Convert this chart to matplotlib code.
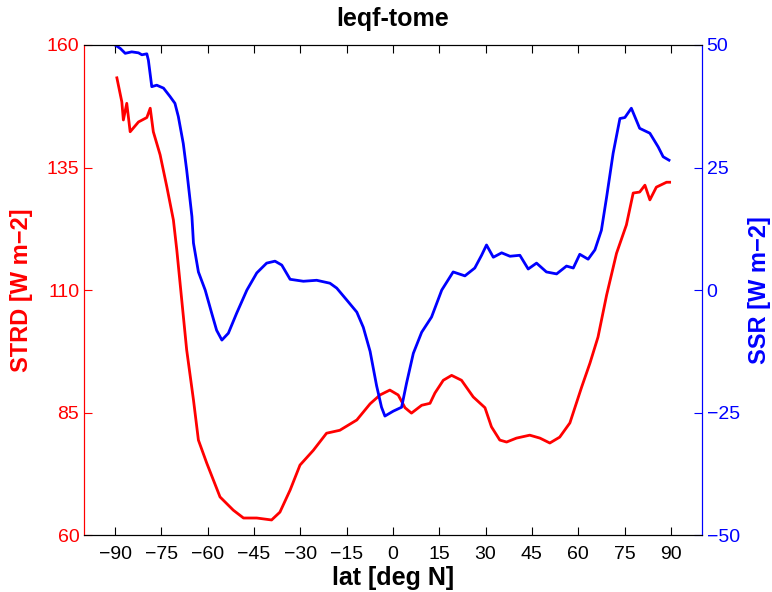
import numpy as np
import matplotlib.pyplot as plt

plt.rcParams['font.family'] = ['Liberation Sans', 'DejaVu Sans']

# STRD (red, left axis)
lat_strd = [-89.4, -87.8, -87.3, -86.2, -85.1, -82.4, -79.7, -78.6, -77.6, -75.4,
            -73.2, -71.1, -70.0, -68.4, -66.8, -64.6, -63.0, -60.3, -56.0, -51.7,
            -48.4, -44.1, -39.3, -36.6, -33.3, -30.1, -25.8, -21.5, -17.2, -11.7,
            -7.4, -4.2, -1.0, 1.7, 3.9, 6.0, 9.3, 12.0, 13.6, 16.3,
            19.0, 22.2, 26.0, 29.8, 31.9, 34.6, 36.8, 40.0, 44.3, 47.6,
            50.8, 54.0, 57.3, 61.1, 63.8, 66.4, 69.2, 72.4, 75.6, 77.8,
            79.9, 81.6, 83.2, 85.3, 88.6, 89.6]
strd = [153.3, 148.4, 144.7, 148.1, 142.3, 144.3, 145.2, 147.1, 142.3, 137.6,
        131.0, 124.3, 118.2, 108.0, 97.8, 87.6, 79.4, 74.7, 67.8, 65.1,
        63.5, 63.5, 63.1, 64.7, 69.2, 74.3, 77.3, 80.8, 81.4, 83.5,
        86.8, 88.6, 89.6, 88.6, 86.0, 84.9, 86.5, 86.9, 89.0, 91.6,
        92.6, 91.6, 88.2, 86.0, 82.1, 79.4, 79.0, 79.8, 80.4, 79.8,
        78.8, 80.0, 82.9, 90.2, 95.1, 100.4, 109.0, 117.5, 123.3, 129.8,
        130.0, 131.4, 128.4, 131.0, 132.0, 132.0]

# SSR (blue, right axis)
lat_ssr = [-90.0, -88.3, -86.7, -84.6, -82.4, -81.3, -79.7, -79.2, -78.1, -76.5,
           -74.3, -72.2, -70.6, -69.5, -67.9, -66.8, -65.1, -64.6, -63.0, -60.8,
           -58.7, -57.1, -55.4, -53.3, -50.6, -47.3, -44.1, -40.9, -38.2, -36.0,
           -33.3, -29.0, -24.7, -20.4, -18.2, -15.0, -11.7, -9.6, -7.4, -5.3,
           -3.7, -2.6, 0.1, 2.8, 4.4, 6.6, 9.3, 12.5, 15.8, 19.5,
           23.3, 26.5, 28.7, 30.3, 32.5, 35.2, 37.9, 41.1, 43.8, 46.5,
           49.7, 53.0, 56.2, 58.4, 60.5, 63.2, 65.4, 67.5, 69.2, 71.3,
           73.5, 75.1, 77.2, 79.9, 83.2, 85.9, 87.5, 89.4]
ssr = [50.0, 49.3, 48.3, 48.6, 48.4, 48.0, 48.2, 46.9, 41.5, 41.8,
       41.2, 39.5, 38.1, 35.4, 29.9, 24.5, 15.0, 9.6, 3.7, 0.0,
       -4.7, -8.2, -10.2, -8.8, -4.7, 0.0, 3.5, 5.5, 5.9, 5.1,
       2.2, 1.8, 2.0, 1.4, 0.4, -2.0, -4.5, -7.6, -12.5, -19.5,
       -23.9, -25.7, -24.7, -23.9, -19.0, -12.9, -8.6, -5.5, 0.0, 3.7,
       2.9, 4.5, 7.1, 9.2, 6.7, 7.6, 6.9, 7.1, 4.3, 5.5,
       3.7, 3.3, 4.9, 4.5, 7.3, 6.3, 8.2, 12.2, 19.0, 27.9,
       35.0, 35.2, 37.1, 33.0, 32.0, 29.2, 27.2, 26.5]

xticks = np.arange(-90, 91, 15)

fig = plt.figure(figsize=(7.72, 5.92), dpi=100)
ax = fig.add_axes([0.109, 0.096, 0.800, 0.828])
ax2 = ax.twinx()

ax.plot(lat_strd, strd, color='#ff0000', lw=2)
ax2.plot(lat_ssr, ssr, color='#0000ff', lw=2)

ax.set_xlim(-100, 100)
ax.set_ylim(60, 160)
ax2.set_ylim(-50, 50)
ax.set_xticks(xticks)
ax.set_yticks([60, 85, 110, 135, 160])
ax2.set_yticks([-50, -25, 0, 25, 50])

ax.tick_params(axis='x', direction='in', top=True, length=6, labelsize=14, pad=8)
ax.tick_params(axis='y', direction='in', length=6, colors='#ff0000', labelsize=14)
ax2.tick_params(axis='y', direction='in', length=6, colors='#0000ff', labelsize=14)

ax.spines['left'].set_color('#ff0000')
ax2.spines['left'].set_color('#ff0000')
ax2.spines['right'].set_color('#0000ff')
ax.spines['right'].set_color('#0000ff')

ax.set_xlabel('lat [deg N]', fontsize=18, fontweight='bold', labelpad=2)
ax.set_ylabel('STRD [W m\u22122]', fontsize=17, fontweight='bold', color='#ff0000', labelpad=10)
ax2.set_ylabel('SSR [W m\u22122]', fontsize=17, fontweight='bold', color='#0000ff', labelpad=6)
ax.set_title('leqf-tome', fontsize=18, fontweight='bold', pad=14)

fig.savefig('out.png', dpi=100)
